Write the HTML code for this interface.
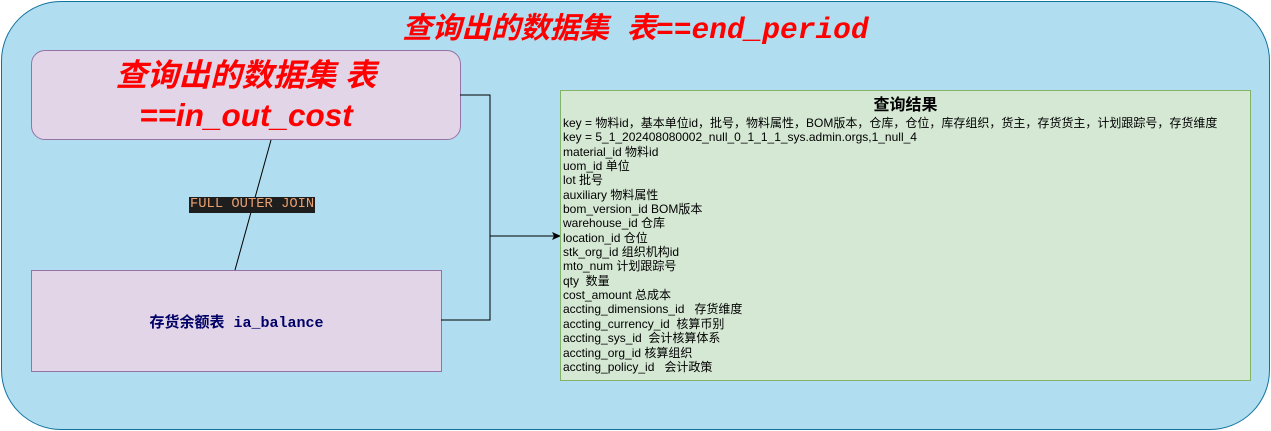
<!DOCTYPE html>
<html><head><meta charset="utf-8"><style>
body{margin:0;width:1271px;height:431px;position:relative;overflow:hidden;background:#fff;font-family:"Liberation Sans","Noto Sans CJK SC",sans-serif}
.outer{position:absolute;left:1px;top:1px;width:1267px;height:427px;border:1px solid #10739e;border-radius:60px;background:#b1ddf0}
.title{position:absolute;left:0;width:1271px;top:5px;text-align:center;color:#ff0000;font-style:italic;font-weight:bold;font-size:29.5px;font-family:"Liberation Mono","Noto Sans CJK SC",monospace}
.t1{position:absolute;left:31px;top:50px;width:428px;height:88px;border:1px solid #9673a6;border-radius:14px;background:#e1d5e7;color:#ff0000;font-style:italic;font-weight:bold;font-size:31.5px;text-align:center;line-height:40px;display:flex;align-items:center;justify-content:center}
.t2{position:absolute;left:31px;top:270px;width:409px;height:100px;border:1px solid #9673a6;background:#e1d5e7;display:flex;align-items:center;justify-content:center;font-weight:bold;font-size:15px;color:#000066;font-family:"Liberation Mono","Noto Sans CJK SC",monospace}
.res{position:absolute;left:560px;top:90px;width:689px;height:289px;border:1px solid #82b366;background:#d5e8d4;font-size:12px;line-height:14.35px;color:#000}
.res h{display:block;text-align:center;font-weight:bold;font-size:16px;line-height:20px;margin-top:5px}
.res div{padding-left:2px;white-space:nowrap}
.lbl{position:absolute;left:189px;top:197px;background:#1e1e1e;color:#e8a070;font-family:"Liberation Mono",monospace;font-size:13.8px;padding:0 1px;line-height:16px}
</style></head><body>
<div class="outer"></div>
<div class="title">查询出的数据集 表==end_period</div>
<div class="t1"><div>查询出的数据集 表<br>==in_out_cost</div></div>
<div class="t2">存货余额表 ia_balance</div>
<svg width="1271" height="431" style="position:absolute;left:0;top:0">
<line x1="271" y1="140" x2="235" y2="270" stroke="#000" stroke-width="1"/>
<polyline points="460,95 490,95 490,320 441,320" fill="none" stroke="#000" stroke-width="1"/>
<line x1="490" y1="236" x2="554" y2="236" stroke="#000" stroke-width="1"/>
<polygon points="561,236 552,232 554,236 552,240" fill="#000"/>
</svg>
<div class="lbl">FULL OUTER JOIN</div>
<div class="res"><h>查询结果</h>
<div>key = 物料id，基本单位id，批号，物料属性，BOM版本，仓库，仓位，库存组织，货主，存货货主，计划跟踪号，存货维度</div>
<div>key = 5_1_202408080002_null_0_1_1_1_sys.admin.orgs,1_null_4</div>
<div>material_id 物料id</div>
<div>uom_id 单位</div>
<div>lot 批号</div>
<div>auxiliary 物料属性</div>
<div>bom_version_id BOM版本</div>
<div>warehouse_id 仓库</div>
<div>location_id 仓位</div>
<div>stk_org_id 组织机构id</div>
<div>mto_num 计划跟踪号</div>
<div>qty&nbsp; 数量</div>
<div>cost_amount 总成本</div>
<div>accting_dimensions_id&nbsp;&nbsp; 存货维度</div>
<div>accting_currency_id&nbsp; 核算币别</div>
<div>accting_sys_id&nbsp; 会计核算体系</div>
<div>accting_org_id 核算组织</div>
<div>accting_policy_id&nbsp;&nbsp; 会计政策</div>
</div>
</body></html>
